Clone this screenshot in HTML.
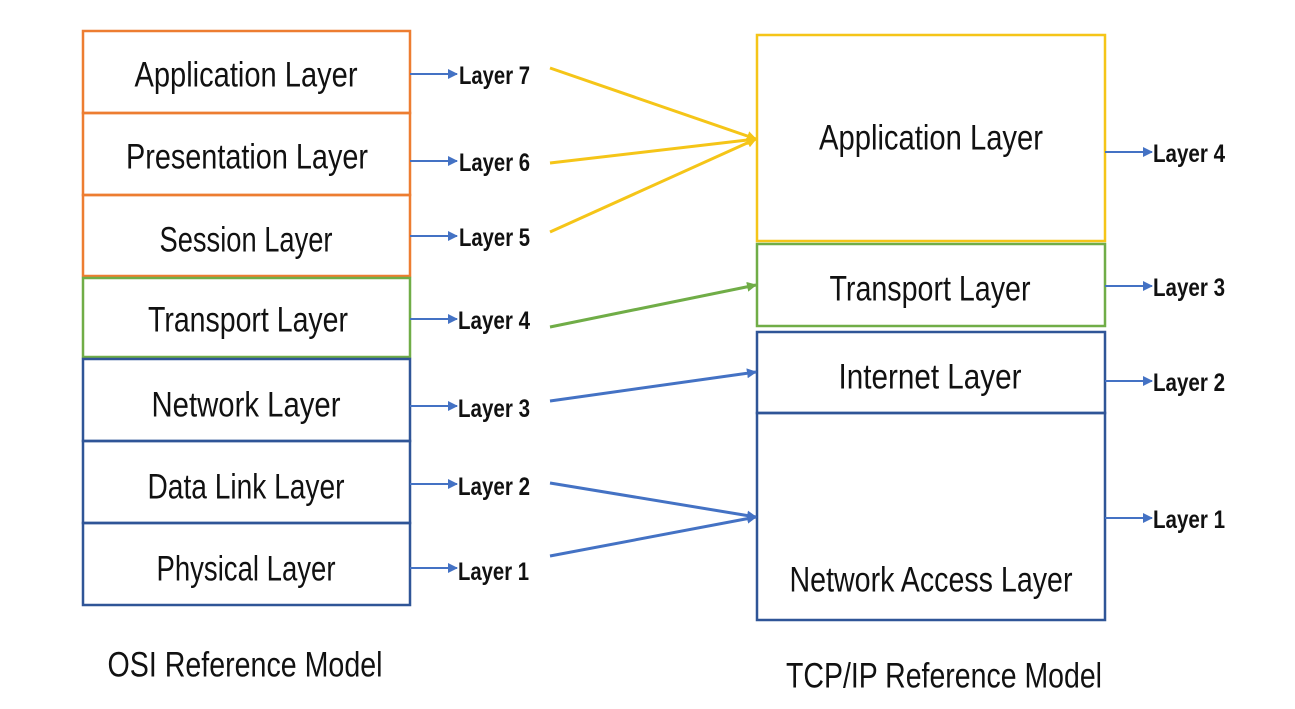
<!DOCTYPE html>
<html><head><meta charset="utf-8"><style>html,body{margin:0;padding:0;background:#fff}svg{display:block}</style></head>
<body>
<svg width="1295" height="709" viewBox="0 0 1295 709" xmlns="http://www.w3.org/2000/svg" font-family="Liberation Sans, sans-serif">
<defs>
<marker id="b" markerWidth="10" markerHeight="10" refX="9" refY="5" orient="auto" markerUnits="userSpaceOnUse"><path d="M0,0 L10,5 L0,10 z" fill="#4472C4"/></marker>
<marker id="y" markerWidth="10" markerHeight="10" refX="9" refY="5" orient="auto" markerUnits="userSpaceOnUse"><path d="M0,0 L10,5 L0,10 z" fill="#F5C518"/></marker>
<marker id="g" markerWidth="10" markerHeight="10" refX="9" refY="5" orient="auto" markerUnits="userSpaceOnUse"><path d="M0,0 L10,5 L0,10 z" fill="#70AD47"/></marker>
<marker id="bb" markerWidth="10" markerHeight="10" refX="9" refY="5" orient="auto" markerUnits="userSpaceOnUse"><path d="M0,0 L10,5 L0,10 z" fill="#4472C4"/></marker>
</defs>
<rect width="1295" height="709" fill="#fff"/>
<g fill="none" stroke-width="2.5">
<rect x="83" y="31" width="327" height="82" stroke="#ED7D31"/>
<rect x="83" y="113" width="327" height="82" stroke="#ED7D31"/>
<rect x="83" y="195" width="327" height="81" stroke="#ED7D31"/>
<rect x="83" y="278" width="327" height="79" stroke="#70AD47"/>
<rect x="83" y="359" width="327" height="82" stroke="#2F5597"/>
<rect x="83" y="441" width="327" height="82" stroke="#2F5597"/>
<rect x="83" y="523" width="327" height="82" stroke="#2F5597"/>
<rect x="757" y="35" width="348" height="206" stroke="#F5C518"/>
<rect x="757" y="244" width="348" height="82" stroke="#70AD47"/>
<rect x="757" y="332" width="348" height="81" stroke="#2F5597"/>
<rect x="757" y="413" width="348" height="207" stroke="#2F5597"/>
</g>
<g font-size="35" fill="#111" text-anchor="middle" dominant-baseline="central">
<text x="246" y="75" textLength="223" lengthAdjust="spacingAndGlyphs">Application Layer</text>
<text x="247" y="157" textLength="242" lengthAdjust="spacingAndGlyphs">Presentation Layer</text>
<text x="246" y="240" textLength="173" lengthAdjust="spacingAndGlyphs">Session Layer</text>
<text x="248" y="320" textLength="200" lengthAdjust="spacingAndGlyphs">Transport Layer</text>
<text x="246" y="405" textLength="189" lengthAdjust="spacingAndGlyphs">Network Layer</text>
<text x="246" y="487" textLength="197" lengthAdjust="spacingAndGlyphs">Data Link Layer</text>
<text x="246" y="569" textLength="179" lengthAdjust="spacingAndGlyphs">Physical Layer</text>
<text x="931" y="138" textLength="224" lengthAdjust="spacingAndGlyphs">Application Layer</text>
<text x="930" y="289" textLength="201" lengthAdjust="spacingAndGlyphs">Transport Layer</text>
<text x="930" y="377" textLength="183" lengthAdjust="spacingAndGlyphs">Internet Layer</text>
<text x="931" y="580" textLength="283" lengthAdjust="spacingAndGlyphs">Network Access Layer</text>
<text x="245" y="665" textLength="275" lengthAdjust="spacingAndGlyphs">OSI Reference Model</text>
<text x="944" y="676" textLength="316" lengthAdjust="spacingAndGlyphs">TCP/IP Reference Model</text>
</g>
<g stroke="#4472C4" stroke-width="2" marker-end="url(#b)">
<line x1="410" y1="74" x2="457" y2="74"/>
<line x1="410" y1="161" x2="457" y2="161"/>
<line x1="410" y1="236" x2="457" y2="236"/>
<line x1="410" y1="319" x2="457" y2="319"/>
<line x1="410" y1="406" x2="457" y2="406"/>
<line x1="410" y1="484" x2="457" y2="484"/>
<line x1="410" y1="568" x2="457" y2="568"/>
<line x1="1105" y1="152" x2="1152" y2="152"/>
<line x1="1105" y1="286" x2="1152" y2="286"/>
<line x1="1105" y1="381" x2="1152" y2="381"/>
<line x1="1105" y1="518" x2="1152" y2="518"/>
</g>
<g font-size="25" font-weight="bold" fill="#111" dominant-baseline="central">
<text x="459" y="76" textLength="71" lengthAdjust="spacingAndGlyphs">Layer 7</text>
<text x="459" y="163" textLength="71" lengthAdjust="spacingAndGlyphs">Layer 6</text>
<text x="459" y="238" textLength="71" lengthAdjust="spacingAndGlyphs">Layer 5</text>
<text x="458" y="321" textLength="72" lengthAdjust="spacingAndGlyphs">Layer 4</text>
<text x="458" y="409" textLength="72" lengthAdjust="spacingAndGlyphs">Layer 3</text>
<text x="458" y="487" textLength="72" lengthAdjust="spacingAndGlyphs">Layer 2</text>
<text x="458" y="572" textLength="71" lengthAdjust="spacingAndGlyphs">Layer 1</text>
<text x="1153" y="154" textLength="72" lengthAdjust="spacingAndGlyphs">Layer 4</text>
<text x="1153" y="288" textLength="72" lengthAdjust="spacingAndGlyphs">Layer 3</text>
<text x="1153" y="383" textLength="72" lengthAdjust="spacingAndGlyphs">Layer 2</text>
<text x="1153" y="520" textLength="72" lengthAdjust="spacingAndGlyphs">Layer 1</text>
</g>
<g stroke-width="3" fill="none">
<line x1="550" y1="68" x2="756" y2="139" stroke="#F5C518" marker-end="url(#y)"/>
<line x1="550" y1="163" x2="756" y2="139" stroke="#F5C518" marker-end="url(#y)"/>
<line x1="550" y1="232" x2="756" y2="139" stroke="#F5C518" marker-end="url(#y)"/>
<line x1="550" y1="327" x2="756" y2="285" stroke="#70AD47" marker-end="url(#g)"/>
<line x1="550" y1="401" x2="756" y2="372" stroke="#4472C4" marker-end="url(#bb)"/>
<line x1="550" y1="483" x2="756" y2="517" stroke="#4472C4" marker-end="url(#bb)"/>
<line x1="550" y1="556" x2="756" y2="517" stroke="#4472C4" marker-end="url(#bb)"/>
</g>
</svg>
</body></html>
